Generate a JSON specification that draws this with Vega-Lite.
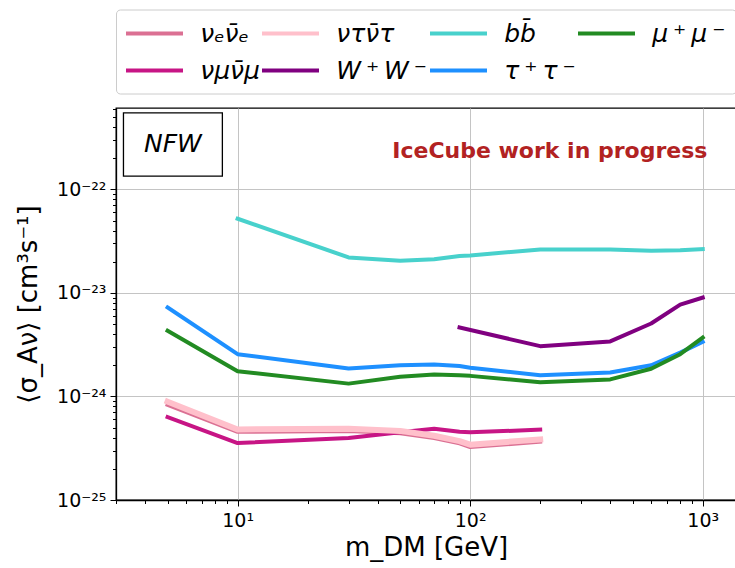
{
  "$schema": "https://vega.github.io/schema/vega-lite/v6.json",
  "width": 620,
  "height": 392,
  "autosize": {"type": "none"},
  "padding": {"left": 116, "top": 108, "right": 0, "bottom": 68},
  "background": "white",
  "config": {
    "font": "DejaVu Sans",
    "view": {"stroke": "black", "strokeWidth": 1.3},
    "axis": {
      "labelFont": "DejaVu Sans",
      "titleFont": "DejaVu Sans",
      "labelColor": "black",
      "titleColor": "black",
      "tickColor": "black",
      "domainColor": "black",
      "domainWidth": 1.3,
      "tickWidth": 1,
      "labelFontSize": 19,
      "titleFontSize": 26,
      "titleFontWeight": "normal",
      "gridColor": "#c4c4c4",
      "gridWidth": 1,
      "labelOverlap": false,
      "labelFlush": false
    }
  },
  "datasets": {
    "lines": [
      {"s": "\u03bd\u2091\u03bd\u0304\u2091", "m": 5, "v": 8.3e-25},
      {"s": "\u03bd\u2091\u03bd\u0304\u2091", "m": 10, "v": 4.55e-25},
      {"s": "\u03bd\u2091\u03bd\u0304\u2091", "m": 30, "v": 4.65e-25},
      {"s": "\u03bd\u2091\u03bd\u0304\u2091", "m": 50, "v": 4.42e-25},
      {"s": "\u03bd\u2091\u03bd\u0304\u2091", "m": 70, "v": 3.97e-25},
      {"s": "\u03bd\u2091\u03bd\u0304\u2091", "m": 90, "v": 3.52e-25},
      {"s": "\u03bd\u2091\u03bd\u0304\u2091", "m": 100, "v": 3.25e-25},
      {"s": "\u03bd\u2091\u03bd\u0304\u2091", "m": 200, "v": 3.65e-25},
      {"s": "\u03bd\u03bc\u03bd\u0304\u03bc", "m": 5, "v": 6.33e-25},
      {"s": "\u03bd\u03bc\u03bd\u0304\u03bc", "m": 10, "v": 3.55e-25},
      {"s": "\u03bd\u03bc\u03bd\u0304\u03bc", "m": 30, "v": 3.96e-25},
      {"s": "\u03bd\u03bc\u03bd\u0304\u03bc", "m": 50, "v": 4.5e-25},
      {"s": "\u03bd\u03bc\u03bd\u0304\u03bc", "m": 70, "v": 4.88e-25},
      {"s": "\u03bd\u03bc\u03bd\u0304\u03bc", "m": 90, "v": 4.55e-25},
      {"s": "\u03bd\u03bc\u03bd\u0304\u03bc", "m": 100, "v": 4.5e-25},
      {"s": "\u03bd\u03bc\u03bd\u0304\u03bc", "m": 200, "v": 4.78e-25},
      {"s": "\u03bd\u03c4\u03bd\u0304\u03c4", "m": 5, "v": 8.9e-25},
      {"s": "\u03bd\u03c4\u03bd\u0304\u03c4", "m": 10, "v": 4.8e-25},
      {"s": "\u03bd\u03c4\u03bd\u0304\u03c4", "m": 30, "v": 4.88e-25},
      {"s": "\u03bd\u03c4\u03bd\u0304\u03c4", "m": 50, "v": 4.65e-25},
      {"s": "\u03bd\u03c4\u03bd\u0304\u03c4", "m": 70, "v": 4.17e-25},
      {"s": "\u03bd\u03c4\u03bd\u0304\u03c4", "m": 90, "v": 3.7e-25},
      {"s": "\u03bd\u03c4\u03bd\u0304\u03c4", "m": 100, "v": 3.42e-25},
      {"s": "\u03bd\u03c4\u03bd\u0304\u03c4", "m": 200, "v": 3.85e-25},
      {"s": "W\u2009\u207a\u2009W\u2009\u207b", "m": 90, "v": 4.63e-24},
      {"s": "W\u2009\u207a\u2009W\u2009\u207b", "m": 200, "v": 3.06e-24},
      {"s": "W\u2009\u207a\u2009W\u2009\u207b", "m": 400, "v": 3.4e-24},
      {"s": "W\u2009\u207a\u2009W\u2009\u207b", "m": 600, "v": 5.06e-24},
      {"s": "W\u2009\u207a\u2009W\u2009\u207b", "m": 800, "v": 7.7e-24},
      {"s": "W\u2009\u207a\u2009W\u2009\u207b", "m": 1000, "v": 9.0e-24},
      {"s": "bb\u0304", "m": 10, "v": 5.2e-23},
      {"s": "bb\u0304", "m": 30, "v": 2.2e-23},
      {"s": "bb\u0304", "m": 50, "v": 2.04e-23},
      {"s": "bb\u0304", "m": 70, "v": 2.11e-23},
      {"s": "bb\u0304", "m": 90, "v": 2.27e-23},
      {"s": "bb\u0304", "m": 100, "v": 2.3e-23},
      {"s": "bb\u0304", "m": 200, "v": 2.63e-23},
      {"s": "bb\u0304", "m": 400, "v": 2.63e-23},
      {"s": "bb\u0304", "m": 600, "v": 2.55e-23},
      {"s": "bb\u0304", "m": 800, "v": 2.58e-23},
      {"s": "bb\u0304", "m": 1000, "v": 2.65e-23},
      {"s": "\u03c4\u2009\u207a\u2009\u03c4\u2009\u207b", "m": 5, "v": 7.23e-24},
      {"s": "\u03c4\u2009\u207a\u2009\u03c4\u2009\u207b", "m": 10, "v": 2.56e-24},
      {"s": "\u03c4\u2009\u207a\u2009\u03c4\u2009\u207b", "m": 30, "v": 1.86e-24},
      {"s": "\u03c4\u2009\u207a\u2009\u03c4\u2009\u207b", "m": 50, "v": 2.0e-24},
      {"s": "\u03c4\u2009\u207a\u2009\u03c4\u2009\u207b", "m": 70, "v": 2.03e-24},
      {"s": "\u03c4\u2009\u207a\u2009\u03c4\u2009\u207b", "m": 90, "v": 1.97e-24},
      {"s": "\u03c4\u2009\u207a\u2009\u03c4\u2009\u207b", "m": 100, "v": 1.89e-24},
      {"s": "\u03c4\u2009\u207a\u2009\u03c4\u2009\u207b", "m": 200, "v": 1.6e-24},
      {"s": "\u03c4\u2009\u207a\u2009\u03c4\u2009\u207b", "m": 400, "v": 1.7e-24},
      {"s": "\u03c4\u2009\u207a\u2009\u03c4\u2009\u207b", "m": 600, "v": 2.0e-24},
      {"s": "\u03c4\u2009\u207a\u2009\u03c4\u2009\u207b", "m": 800, "v": 2.65e-24},
      {"s": "\u03c4\u2009\u207a\u2009\u03c4\u2009\u207b", "m": 1000, "v": 3.37e-24},
      {"s": "\u03bc\u2009\u207a\u2009\u03bc\u2009\u207b", "m": 5, "v": 4.3e-24},
      {"s": "\u03bc\u2009\u207a\u2009\u03bc\u2009\u207b", "m": 10, "v": 1.75e-24},
      {"s": "\u03bc\u2009\u207a\u2009\u03bc\u2009\u207b", "m": 30, "v": 1.33e-24},
      {"s": "\u03bc\u2009\u207a\u2009\u03bc\u2009\u207b", "m": 50, "v": 1.55e-24},
      {"s": "\u03bc\u2009\u207a\u2009\u03bc\u2009\u207b", "m": 70, "v": 1.63e-24},
      {"s": "\u03bc\u2009\u207a\u2009\u03bc\u2009\u207b", "m": 90, "v": 1.6e-24},
      {"s": "\u03bc\u2009\u207a\u2009\u03bc\u2009\u207b", "m": 100, "v": 1.58e-24},
      {"s": "\u03bc\u2009\u207a\u2009\u03bc\u2009\u207b", "m": 200, "v": 1.37e-24},
      {"s": "\u03bc\u2009\u207a\u2009\u03bc\u2009\u207b", "m": 400, "v": 1.46e-24},
      {"s": "\u03bc\u2009\u207a\u2009\u03bc\u2009\u207b", "m": 600, "v": 1.85e-24},
      {"s": "\u03bc\u2009\u207a\u2009\u03bc\u2009\u207b", "m": 800, "v": 2.56e-24},
      {"s": "\u03bc\u2009\u207a\u2009\u03bc\u2009\u207b", "m": 1000, "v": 3.71e-24}
    ],
    "nfwbox": [{"m": 3.23, "m2": 8.6, "v": 5.48e-22, "v2": 1.34e-22}],
    "nfwtext": [{"m": 5.27, "v": 2.73e-22, "t": "NFW"}],
    "note": [{"m": 220, "v": 1.99e-22, "t": "IceCube work in progress"}]
  },
  "encoding": {
    "x": {
      "field": "m",
      "type": "quantitative",
      "scale": {"type": "log", "domain": [3, 1390], "nice": false},
      "axis": {
        "title": "m_DM [GeV]",
        "titlePadding": 4,
        "values": [3,4,5,6,7,8,9,10,20,30,40,50,60,70,80,90,100,200,300,400,500,600,700,800,900,1000],
        "tickSize": {"condition": {"test": "abs(log(datum.value)/LN10 - round(log(datum.value)/LN10)) < 0.001", "value": 6}, "value": 3.5},
        "gridOpacity": {"condition": {"test": "abs(log(datum.value)/LN10 - round(log(datum.value)/LN10)) < 0.001", "value": 1}, "value": 0},
        "labelPadding": 5,
        "labelExpr": "abs(log(datum.value)/LN10 - round(log(datum.value)/LN10)) < 0.001 ? ('10' + (round(log(datum.value)/LN10) == 1 ? '\u00b9' : round(log(datum.value)/LN10) == 2 ? '\u00b2' : '\u00b3')) : ''"
      }
    },
    "y": {
      "field": "v",
      "type": "quantitative",
      "scale": {"type": "log", "domain": [1e-25, 6.1e-22], "nice": false},
      "axis": {
        "title": "\u27e8\u03c3_A\u03bd\u27e9 [cm\u00b3s\u207b\u00b9]",
        "titlePadding": 15,
        "values": [1e-25,2e-25,3e-25,4e-25,5e-25,6e-25,7e-25,8e-25,9e-25,1e-24,2e-24,3e-24,4e-24,5e-24,6e-24,7e-24,8e-24,9e-24,1e-23,2e-23,3e-23,4e-23,5e-23,6e-23,7e-23,8e-23,9e-23,1e-22,2e-22,3e-22,4e-22,5e-22,6e-22],
        "tickSize": {"condition": {"test": "abs(log(datum.value)/LN10 - round(log(datum.value)/LN10)) < 0.001", "value": 6}, "value": 3.5},
        "gridOpacity": {"condition": {"test": "abs(log(datum.value)/LN10 - round(log(datum.value)/LN10)) < 0.001", "value": 1}, "value": 0},
        "labelPadding": 4,
        "labelExpr": "abs(log(datum.value)/LN10 - round(log(datum.value)/LN10)) < 0.001 ? ('10' + (round(log(datum.value)/LN10) == -22 ? '\u207b\u00b2\u00b2' : round(log(datum.value)/LN10) == -23 ? '\u207b\u00b2\u00b3' : round(log(datum.value)/LN10) == -24 ? '\u207b\u00b2\u2074' : '\u207b\u00b2\u2075')) : ''"
      }
    }
  },
  "layer": [
    {
      "data": {"name": "nfwbox"},
      "mark": {"type": "rect", "fill": "white", "stroke": "black", "strokeWidth": 1.3},
      "encoding": {
        "x2": {"field": "m2"},
        "y2": {"field": "v2"}
      }
    },
    {
      "data": {"name": "nfwtext"},
      "mark": {"type": "text", "font": "DejaVu Sans", "fontStyle": "italic", "fontSize": 25, "color": "black", "baseline": "middle", "align": "center"},
      "encoding": {"text": {"field": "t"}}
    },
    {
      "data": {"name": "note"},
      "mark": {"type": "text", "font": "DejaVu Sans", "fontWeight": "bold", "fontSize": 22, "color": "#B22222", "baseline": "alphabetic", "align": "center"},
      "encoding": {"text": {"field": "t"}}
    },
    {
      "data": {"name": "lines"},
      "transform": [{"filter": {"not": {"field": "s", "oneOf": ["\u03bd\u03c4\u03bd\u0304\u03c4", "\u03bc\u2009\u207a\u2009\u03bc\u2009\u207b"]}}}],
      "mark": {"type": "line", "strokeWidth": 4, "strokeCap": "square", "strokeJoin": "round"},
      "encoding": {
        "color": {
          "field": "s",
          "type": "nominal",
          "scale": {
            "domain": ["\u03bd\u2091\u03bd\u0304\u2091", "\u03bd\u03bc\u03bd\u0304\u03bc", "\u03bd\u03c4\u03bd\u0304\u03c4", "W\u2009\u207a\u2009W\u2009\u207b", "bb\u0304", "\u03c4\u2009\u207a\u2009\u03c4\u2009\u207b", "\u03bc\u2009\u207a\u2009\u03bc\u2009\u207b"],
            "range": ["#DB7093", "#C71585", "#FFC0CB", "#800080", "#48D1CC", "#1E90FF", "#228B22"]
          },
          "legend": {
            "title": null,
            "orient": "none",
            "legendX": 0,
            "legendY": -98.5,
            "columns": 4,
            "gridAlign": "each",
            "columnPadding": -6,
            "rowPadding": 10,
            "padding": 10,
            "symbolType": "M-2.375,0H2.375",
            "symbolSize": 576,
            "symbolStrokeWidth": 4,
            "symbolOffset": 14.5,
            "labelOffset": 31.7,
            "labelFont": "DejaVu Sans",
            "labelFontStyle": "italic",
            "labelFontSize": 25,
            "labelColor": "black",
            "labelLimit": 300,
            "strokeColor": "#cccccc",
            "fillColor": "white",
            "cornerRadius": 4
          }
        }
      }
    },
    {
      "data": {"name": "lines"},
      "transform": [{"filter": {"field": "s", "equal": "\u03bd\u03c4\u03bd\u0304\u03c4"}}],
      "mark": {"type": "line", "strokeWidth": 6, "strokeCap": "square", "strokeJoin": "round"},
      "encoding": {"color": {"field": "s", "type": "nominal"}}
    },
    {
      "data": {"name": "lines"},
      "transform": [{"filter": {"field": "s", "equal": "\u03bc\u2009\u207a\u2009\u03bc\u2009\u207b"}}],
      "mark": {"type": "line", "strokeWidth": 4, "strokeCap": "square", "strokeJoin": "round"},
      "encoding": {"color": {"field": "s", "type": "nominal"}}
    }
  ]
}
